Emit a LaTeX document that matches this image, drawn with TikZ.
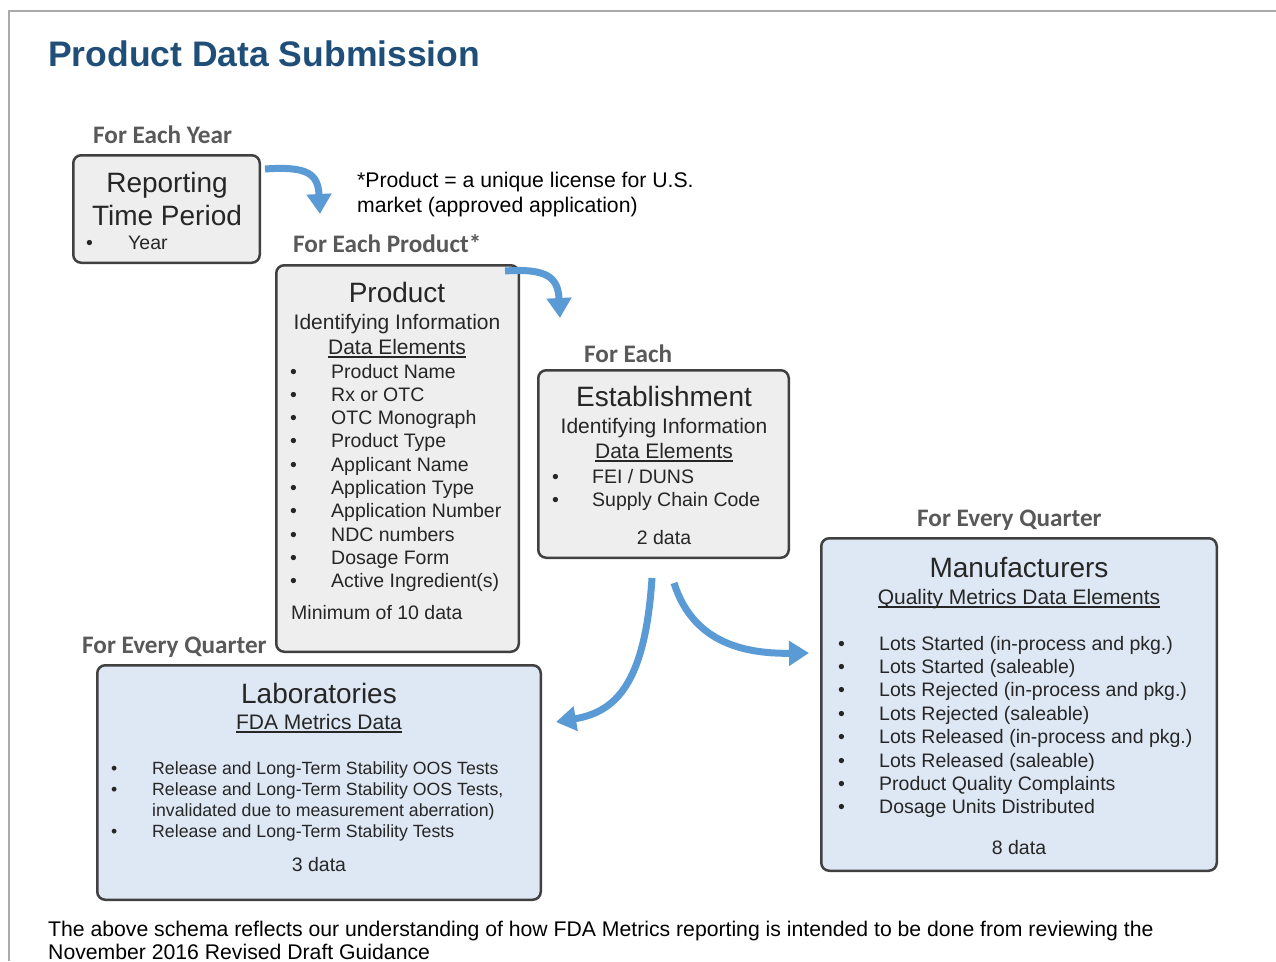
\documentclass[tikz,border=0pt]{standalone}
\usepackage{fontspec}
\setmainfont{Liberation Sans}
\newfontfamily\carl{Carlito}
\usetikzlibrary{arrows.meta}
\newcommand\myul[1]{\setbox0\hbox{#1}\rlap{\vrule height -2.4pt depth 3.8pt width \wd0}\box0}
\definecolor{titleblue}{HTML}{1F4E79}
\definecolor{labelgray}{HTML}{595959}
\definecolor{boxline}{HTML}{404040}
\definecolor{grayfill}{HTML}{EEEEEE}
\definecolor{bluefill}{HTML}{DEE8F4}
\definecolor{arrowblue}{HTML}{5B9BD5}
\definecolor{framegray}{HTML}{AAAAAA}
\definecolor{txt}{HTML}{262626}
\tikzset{
  box/.style={draw=boxline, line width=2.5pt, rounded corners=8pt, anchor=north west, inner sep=0pt, outer sep=0pt},
  lbl/.style={anchor=base west, inner sep=0pt, text=labelgray, font=\carl\bfseries\fontsize{25.2}{29}\selectfont},
  headtxt/.style={anchor=base, inner sep=0pt, text=txt, font=\fontsize{28}{32}\selectfont},
  subtxt/.style={anchor=base, inner sep=0pt, text=txt, font=\fontsize{21}{25}\selectfont},
  itemtxt/.style={anchor=base west, inner sep=0pt, text=txt, font=\fontsize{19.5}{23}\selectfont},
  labtxt/.style={anchor=base west, inner sep=0pt, text=txt, font=\fontsize{17.7}{21}\selectfont},
  plain/.style={anchor=base west, inner sep=0pt, text=black, font=\fontsize{21.2}{25}\selectfont},
  arr/.style={draw=arrowblue, line width=7pt, -{Triangle[width=24pt,length=20pt]}},
}
\begin{document}
\begin{tikzpicture}[x=1pt,y=-1pt]
\useasboundingbox (0,0) rectangle (1276,961);
\fill[white] (0,0) rectangle (1276,961);
\draw[framegray, line width=2pt] (9,961) -- (9,11) -- (1276,11);

% title
\node[anchor=base west, inner sep=0pt, text=titleblue, font=\bfseries\fontsize{35.5}{40}\selectfont] (title) at (48,66) {Product Data Submission};

% Reporting time period
\node[lbl] (lyear) at (93,143) {For Each Year};
\node[box, fill=grayfill, minimum width=186.5pt, minimum height=107.5pt] (rtp) at (73.25,155.25) {};
\node[headtxt] (rtp1) at (167,192) {Reporting};
\node[headtxt] (rtp2) at (167,225) {Time Period};
\node[itemtxt] (rtpb) at (86,249) {•};
\node[itemtxt] (rtpy) at (128,249) {Year};

% note
\node[plain] (note1) at (357,187) {*Product = a unique license for U.S.};
\node[plain] (note2) at (357,212) {market (approved application)};

% Product
\node[lbl] (lprod) at (293,252) {For Each Product*};
\node[box, fill=grayfill, minimum width=242.5pt, minimum height=386.5pt] (prod) at (276.25,265.25) {};
\node[headtxt] (prod1) at (397,302) {Product};
\node[subtxt] (prod2) at (397,329) {Identifying Information};
\node[subtxt] (prod3) at (397,354) {\myul{Data Elements}};
\foreach \t [count=\i from 0] in {Product Name, Rx or OTC, OTC Monograph, Product Type, Applicant Name, Application Type, Application Number, NDC numbers, Dosage Form, Active Ingredient(s)} {
  \node[itemtxt] (pb\i) at (290,378+23.3*\i) {•};
  \node[itemtxt] (pi\i) at (331,378+23.3*\i) {\t};
}
\node[itemtxt] (prodmin) at (291,619) {Minimum of 10 data};

% Establishment
\node[lbl] (lest) at (584,362) {For Each};
\node[box, fill=grayfill, minimum width=250.5pt, minimum height=187.5pt] (est) at (538.25,370.25) {};
\node[headtxt] (est1) at (664,406) {Establishment};
\node[subtxt] (est2) at (664,433) {Identifying Information};
\node[subtxt] (est3) at (664,458) {\myul{Data Elements}};
\node[itemtxt] (eb0) at (552,483) {•};
\node[itemtxt] (ei0) at (592,483) {FEI / DUNS};
\node[itemtxt] (eb1) at (552,506) {•};
\node[itemtxt] (ei1) at (592,506) {Supply Chain Code};
\node[itemtxt, anchor=base] (estn) at (664,544) {2 data};

% Manufacturers
\node[lbl] (lmfg) at (917,526) {For Every Quarter};
\node[box, fill=bluefill, minimum width=395.5pt, minimum height=332.5pt] (mfg) at (821.25,538.25) {};
\node[headtxt] (mfg1) at (1019,577) {Manufacturers};
\node[subtxt] (mfg2) at (1019,604) {\myul{Quality Metrics Data Elements}};
\foreach \t [count=\i from 0] in {Lots Started (in-process and pkg.), Lots Started (saleable), Lots Rejected (in-process and pkg.), Lots Rejected (saleable), Lots Released (in-process and pkg.), Lots Released (saleable), Product Quality Complaints, Dosage Units Distributed} {
  \node[itemtxt] (mb\i) at (838,650+23.4*\i) {•};
  \node[itemtxt] (mi\i) at (879,650+23.4*\i) {\t};
}
\node[itemtxt, anchor=base] (mfgn) at (1019,854) {8 data};

% Laboratories
\node[lbl] (llab) at (82,653) {For Every Quarter};
\node[box, fill=bluefill, minimum width=443.5pt, minimum height=234.5pt] (lab) at (97.25,665.25) {};
\node[headtxt] (lab1) at (319,703) {Laboratories};
\node[subtxt] (lab2) at (319,729) {\myul{FDA Metrics Data}};
\node[labtxt] (lb0) at (111,774) {•};
\node[labtxt] (li0) at (152,774) {Release and Long-Term Stability OOS Tests};
\node[labtxt] (lb1) at (111,795) {•};
\node[labtxt] (li1) at (152,795) {Release and Long-Term Stability OOS Tests,};
\node[labtxt] (li1b) at (152,816) {invalidated due to measurement aberration)};
\node[labtxt] (lb2) at (111,837) {•};
\node[labtxt] (li2) at (152,837) {Release and Long-Term Stability Tests};
\node[itemtxt, anchor=base] (labn) at (319,871) {3 data};

% bottom text
\node[plain] (foot1) at (48,936) {The above schema reflects our understanding of how FDA Metrics reporting is intended to be done from reviewing the};
\node[plain] (foot2) at (48,959) {November 2016 Revised Draft Guidance};

% arrows
\coordinate (a1s) at (265,169);
\coordinate (a1e) at (320,214);
\coordinate (a2s) at (505,271);
\coordinate (a2e) at (560,318);
\coordinate (a3s) at (652,578);
\coordinate (a3e) at (556,722);
\coordinate (a4s) at (674,583);
\coordinate (a4e) at (809,653);
\draw[arr] (a1s) .. controls (308,166) and (318,174) .. (a1e);
\draw[arr] (a2s) .. controls (548,268) and (558,278) .. (a2e);
\draw[arr] (a3s) .. controls (645,685) and (615,712) .. (a3e);
\draw[arr] (a4s) .. controls (692,640) and (740,654) .. (a4e);
\end{tikzpicture}
\end{document}
